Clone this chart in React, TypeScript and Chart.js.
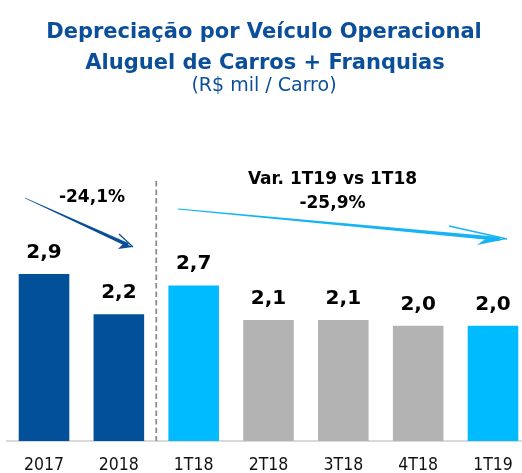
import React, { useEffect, useRef } from "react";
import { Chart, registerables } from "chart.js";

Chart.register(...registerables);

const categories = ["2017", "2018", "1T18", "2T18", "3T18", "4T18", "1T19"];
const values = [2.9, 2.2, 2.7, 2.1, 2.1, 2.0, 2.0];
const valueLabels = ["2,9", "2,2", "2,7", "2,1", "2,1", "2,0", "2,0"];
const barColors = ["#03509A", "#03509A", "#00BBFF", "#B3B3B3", "#B3B3B3", "#B3B3B3", "#00BBFF"];
const titleLines = ["Depreciação por Veículo Operacional", "Aluguel de Carros + Franquias"];
const subtitleText = "(R$ mil / Carro)";
const leftVarText = "-24,1%";
const rightVarLines = ["Var. 1T19 vs 1T18", "-25,9%"];

const FONT = '"DejaVu Sans", sans-serif';
const FONT_C = '"DejaVu Sans Condensed", "DejaVu Sans", sans-serif';
const TITLE_BLUE = "#0B4F9A";

type P = [number, number];
function drawArrow(ctx: CanvasRenderingContext2D, start: P, end: P, tip: P, barbUp: P, barbLow: P, barbInner: P, color: string, w: number) {
  const ang = Math.atan2(end[1] - start[1], end[0] - start[0]);
  const nx = -Math.sin(ang);
  const ny = Math.cos(ang);
  ctx.save();
  ctx.fillStyle = color;
  ctx.strokeStyle = color;
  ctx.beginPath();
  ctx.moveTo(start[0] - nx * 0.4, start[1] - ny * 0.4);
  ctx.lineTo(end[0] - nx * w / 2, end[1] - ny * w / 2);
  ctx.lineTo(end[0] + nx * w / 2, end[1] + ny * w / 2);
  ctx.lineTo(start[0] + nx * 0.4, start[1] + ny * 0.4);
  ctx.closePath();
  ctx.fill();
  ctx.lineWidth = 1.3;
  ctx.beginPath();
  ctx.moveTo(barbUp[0], barbUp[1]);
  ctx.lineTo(tip[0], tip[1]);
  ctx.stroke();
  ctx.beginPath();
  ctx.moveTo(tip[0], tip[1]);
  ctx.lineTo(barbLow[0], barbLow[1]);
  ctx.lineTo(barbInner[0], barbInner[1]);
  ctx.closePath();
  ctx.fill();
  ctx.restore();
}

const decorPlugin = {
  id: "decor",
  beforeDraw(chart: any) {
    const ctx = chart.ctx as CanvasRenderingContext2D;
    ctx.save();
    ctx.fillStyle = "#fff";
    ctx.fillRect(0, 0, chart.width, chart.height);
    ctx.textAlign = "center";
    ctx.textBaseline = "alphabetic";
    ctx.fillStyle = TITLE_BLUE;
    ctx.font = `bold 21px ${FONT}`;
    ctx.fillText(titleLines[0], 264, 38);
    ctx.fillText(titleLines[1], 265, 68.5);
    ctx.font = `19px ${FONT}`;
    ctx.fillText(subtitleText, 264, 91);
    ctx.restore();
  },
  afterDatasetsDraw(chart: any) {
    const ctx = chart.ctx as CanvasRenderingContext2D;
    const xs = chart.scales.x;
    const area = chart.chartArea;
    ctx.save();
    const meta = chart.getDatasetMeta(0);
    ctx.font = `bold 20px ${FONT}`;
    ctx.fillStyle = "#000";
    ctx.textAlign = "center";
    ctx.textBaseline = "alphabetic";
    meta.data.forEach((bar: any, i: number) => {
      ctx.fillText(valueLabels[i], bar.x, bar.y - 16);
    });
    const sepX = (xs.getPixelForValue(1) + xs.getPixelForValue(2)) / 2;
    ctx.strokeStyle = "#8C8C8C";
    ctx.lineWidth = 1.8;
    ctx.setLineDash([5.5, 3]);
    ctx.beginPath();
    ctx.moveTo(sepX, 181);
    ctx.lineTo(sepX, area.bottom);
    ctx.stroke();
    ctx.setLineDash([]);
    drawArrow(ctx, [25, 198], [128, 245], [133, 247], [119, 234], [118, 249], [124, 243], "#0A4F96", 3.6);
    drawArrow(ctx, [178, 209], [500, 239], [507, 239], [449, 226], [477, 245], [486, 238.5], "#16B4F2", 4);
    ctx.fillStyle = "#000";
    ctx.font = `bold 17px ${FONT}`;
    ctx.fillText(leftVarText, 92, 202);
    ctx.fillText(rightVarLines[0], 332.5, 184);
    ctx.fillText(rightVarLines[1], 332.5, 207.5);
    ctx.restore();
  },
};

export default function App() {
  const ref = useRef<HTMLCanvasElement>(null);
  useEffect(() => {
    if (!ref.current) return;
    const chart = new Chart(ref.current, {
      type: "bar",
      data: {
        labels: categories,
        datasets: [
          {
            data: values,
            backgroundColor: barColors,
            borderWidth: 0,
            barPercentage: 0.676,
            categoryPercentage: 1,
          },
        ],
      },
      options: {
        responsive: false,
        maintainAspectRatio: false,
        devicePixelRatio: 1,
        animation: false,
        layout: { padding: { top: 95.4, left: 6.6, right: 0.6, bottom: 0 } },
        plugins: {
          legend: { display: false },
          title: { display: false },
          tooltip: { enabled: false },
        },
        scales: {
          x: {
            grid: { display: false, drawTicks: false, tickLength: 0 },
            border: { display: true, color: "#D9D9D9", width: 2 },
            ticks: { color: "#111", font: { family: FONT_C, size: 17.5 }, padding: 14 },
          },
          y: {
            display: false,
            min: 0,
            max: 6,
          },
        },
      },
      plugins: [decorPlugin],
    });
    return () => chart.destroy();
  }, []);
  return (
    <div style={{ position: "fixed", left: 0, top: 0, width: 522, height: 473, overflow: "hidden", background: "#fff" }}>
      <canvas ref={ref} width={531} height={490} style={{ width: 531, height: 490, display: "block" }} />
    </div>
  );
}
